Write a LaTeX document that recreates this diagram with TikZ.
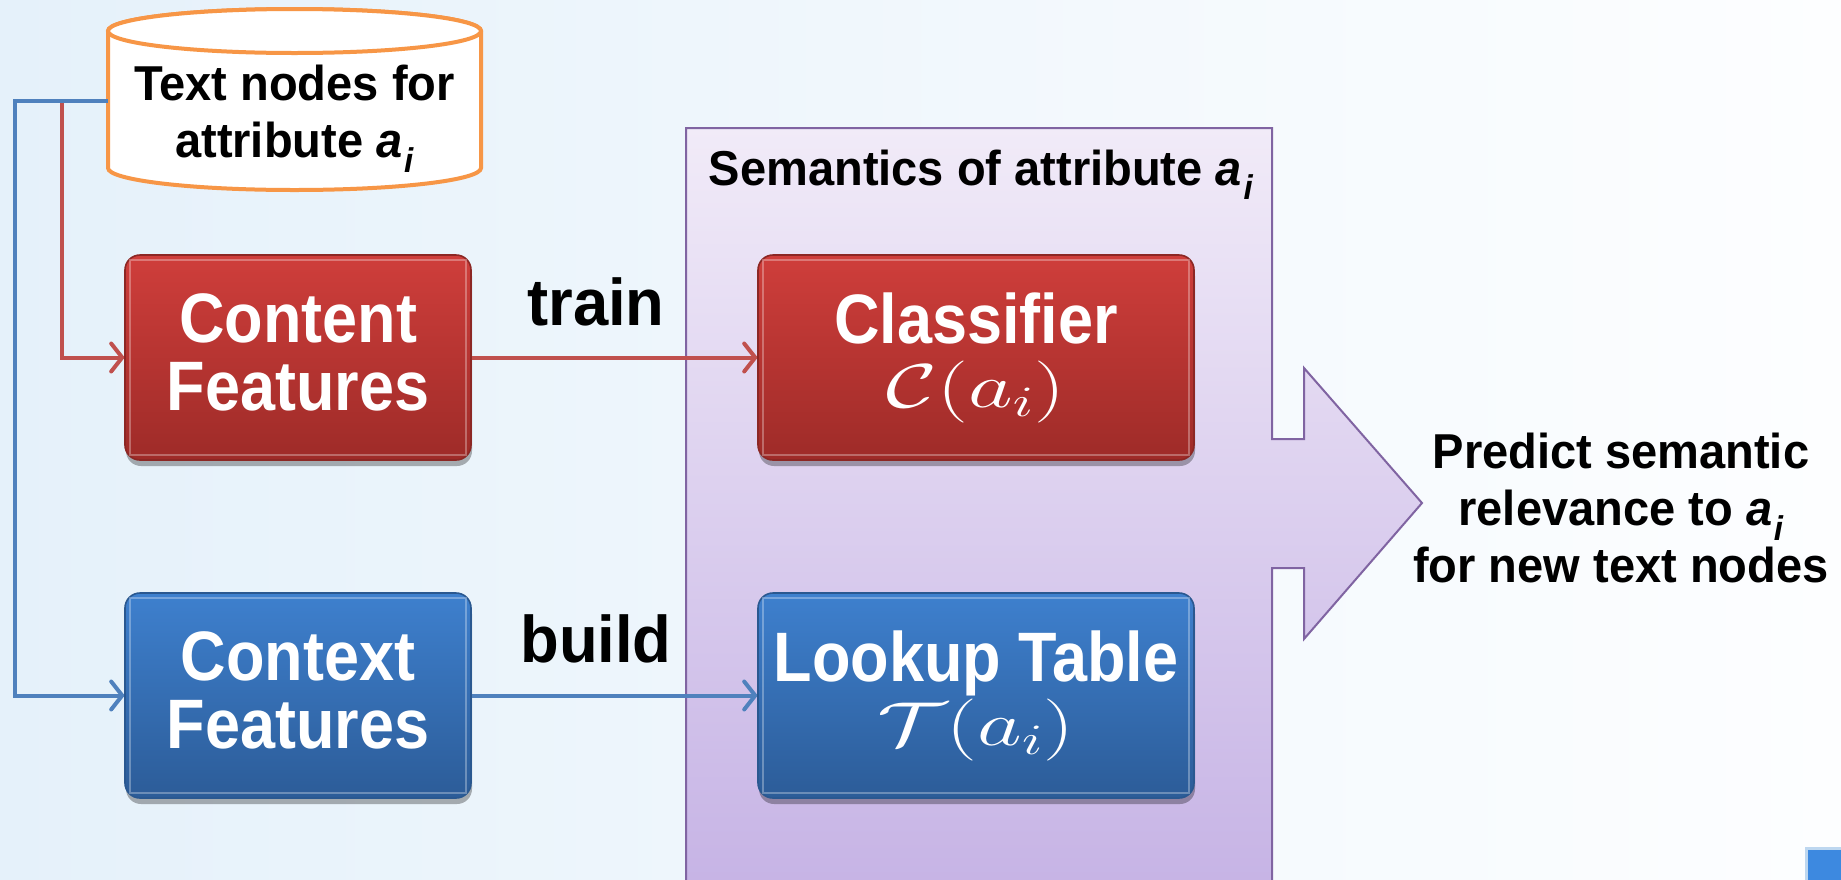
\RequirePackage{fix-cm}
\documentclass[tikz,border=0pt]{standalone}
\usepackage{fontspec}
\usepackage{graphicx}
\setmainfont{Liberation Sans}[FakeStretch=0.96]
\newfontfamily\boxfont{Liberation Sans}[FakeStretch=0.9]
\usetikzlibrary{arrows.meta,shadows,calc}
\definecolor{bgL}{HTML}{E5F1FA}
\definecolor{bgR}{HTML}{FDFEFF}
\definecolor{purT}{HTML}{F1EBF8}
\definecolor{purB}{HTML}{C6B3E5}
\definecolor{purE}{HTML}{8064A2}
\definecolor{redT}{HTML}{CF3E3B}
\definecolor{redB}{HTML}{9E2B28}
\definecolor{redE}{HTML}{8C2724}
\definecolor{bluT}{HTML}{3E80CE}
\definecolor{bluB}{HTML}{2C5C98}
\definecolor{bluE}{HTML}{2A5890}
\definecolor{redL}{HTML}{C0504D}
\definecolor{bluL}{HTML}{4F81BD}
\definecolor{orng}{HTML}{F79646}
\definecolor{sqF}{HTML}{3D89E0}
\definecolor{sqE}{HTML}{BDD7F0}
\newcommand{\aisub}{\textit{a}\kern0.03em\raisebox{-0.3em}{\scalebox{0.7}{\textit{i}}}}
\newcommand{\bigmath}[1]{{\fontsize{31pt}{31pt}\selectfont\scalebox{1.4}[1]{$#1$}}}
\begin{document}
\begin{tikzpicture}[x=0.5pt,y=-0.5pt,
  fbox/.style={rectangle, rounded corners=7.5pt, minimum width=173pt, minimum height=102.5pt,
    inner sep=0pt, align=center, text=white,
    font=\boxfont\bfseries\fontsize{35pt}{34pt}\selectfont, line width=0.8pt,
    drop shadow={shadow xshift=0.5pt, shadow yshift=-3pt, opacity=0.3, fill=black}},
  widebox/.style={minimum width=218pt},
  redbox/.style={fbox, top color=redT, bottom color=redB, draw=redE},
  bluebox/.style={fbox, top color=bluT, bottom color=bluB, draw=bluE},
  bevel/.style={line width=0.8pt, draw=white, opacity=0.3},
  lbl/.style={font=\bfseries\fontsize{24.5pt}{28.5pt}\selectfont, align=center, inner sep=0pt, text=black},
  edgelbl/.style={lbl, font=\bfseries\fontsize{33pt}{33pt}\selectfont},
  conn/.style={line width=2pt, -{Straight Barb[length=5.5pt,width=14pt,round]}},
  cylst/.style={draw=orng, line width=2pt, fill=white}]
\useasboundingbox (0,0) rectangle (1841,879);
\shade[left color=bgL, right color=bgR] (0,0) rectangle (1841,879);

% semantics panel with outgoing big arrow
\begin{scope}
\clip (0,0) rectangle (1841,879);
\path[draw=purE, line width=1pt, top color=purT, bottom color=purB]
  (686,892) -- (686,128) -- (1272,128) -- (1272,439) -- (1304,439) -- (1304,368)
  -- (1422,503) -- (1304,639) -- (1304,568) -- (1272,568) -- (1272,892);
\end{scope}
\node[lbl, font=\bfseries\fontsize{24.5pt}{28pt}\selectfont, anchor=base] (sem) at (981,185) {Semantics of attribute \aisub};

% database cylinder
\path[cylst] (108,31) -- (108,168) arc[start angle=180, end angle=0, x radius=186.5, y radius=22]
  -- (481,31) arc[start angle=0, end angle=-180, x radius=186.5, y radius=22] -- cycle;
\draw[cylst] (294.5,31) ellipse[x radius=186.5, y radius=22];
\node[lbl, minimum width=186.5pt] (cyl) at (294.5,119) {Text nodes for\\attribute \aisub};

% boxes
\node[redbox, text depth=5pt] (cf) at (298,357.5) {Content\\Features};
\node[bluebox, text depth=5pt] (xf) at (298,695.5) {Context\\Features};
\node[redbox, widebox] (cl) at (976,357.5) {Classifier\\[-2pt]\bigmath{\mathcal{C}(a_i)}};
\node[bluebox, widebox] (lt) at (976,695.5) {Lookup Table\\[-2pt]\bigmath{\mathcal{T}(a_i)}};
\foreach \n in {cf,xf,cl,lt}
  \draw[bevel] ([shift={(6,6)}]\n.north west) rectangle ([shift={(-6,-6)}]\n.south east);

% connectors
\coordinate (bj) at (15,101);
\coordinate (rj) at (62,101);
\draw[conn, redL] (rj) |- (cf.west);
\draw[conn, bluL] (cyl.west |- bj) -- (bj) |- (xf.west);
\draw[conn, redL] (cf.east) -- node[edgelbl, pos=0.435, above=14.5pt] (tr) {train} (cl.west);
\draw[conn, bluL] (xf.east) -- node[edgelbl, pos=0.435, above=15pt] (bu) {build} (lt.west);

% result text
\node[lbl, font=\bfseries\fontsize{24.5pt}{28.5pt}\selectfont] (pred) at (1621,508) {Predict semantic\\relevance to \aisub\\for new text nodes};

% slide corner mark
\path[fill=sqF, draw=sqE, line width=1.5pt] (1806,848) rectangle (1846,884);
\end{tikzpicture}
\end{document}
